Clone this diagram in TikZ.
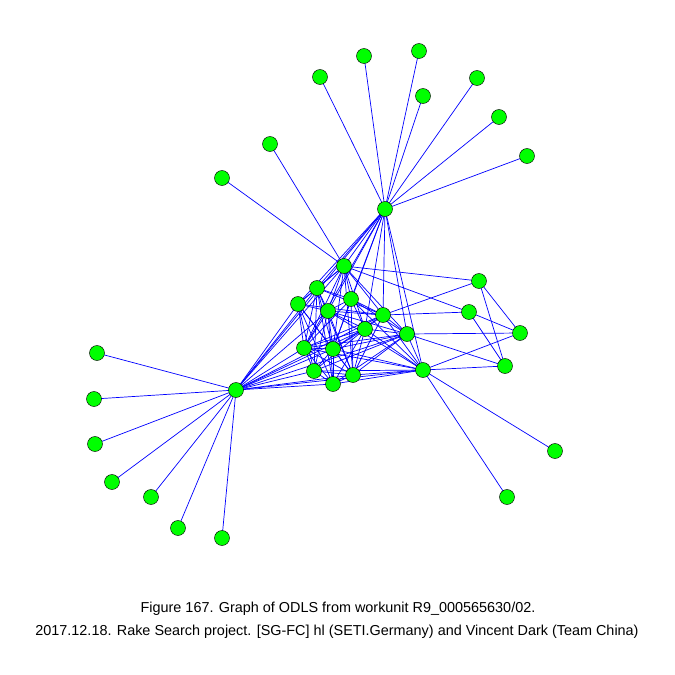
\documentclass[tikz,border=0pt]{standalone}
\usepackage{fontspec}
\setmainfont{Liberation Sans}
\begin{document}
\begin{tikzpicture}[x=0.04cm,y=-0.04cm,
  vtx/.style={circle,draw=black,fill=green,line width=0.5pt,minimum size=0.6cm,inner sep=0pt},
  edge/.style={draw=blue,line width=0.8pt},
  captext/.style={font=\fontsize{16.4}{19}\selectfont,anchor=center,inner sep=0pt}]
\useasboundingbox (0,0) rectangle (675,675);
% hubs
\coordinate (A) at (385,209);
\coordinate (B) at (236,390);
\coordinate (C) at (423,370);
% cluster
\coordinate (D) at (344,266);
\coordinate (E) at (317,288);
\coordinate (F) at (298,304);
\coordinate (G) at (351,299);
\coordinate (H) at (328,311);
\coordinate (I) at (383,315);
\coordinate (J) at (365,329);
\coordinate (K) at (407,334);
\coordinate (L) at (304,348);
\coordinate (M) at (333,349);
\coordinate (N) at (314,371);
\coordinate (O) at (353,375);
\coordinate (P) at (333,384);
% right group
\coordinate (Q) at (479,281);
\coordinate (R) at (469,312);
\coordinate (S) at (520,333);
\coordinate (T) at (505,366);
% leaves of A
\coordinate (a1) at (320,77);
\coordinate (a2) at (364,56);
\coordinate (a3) at (419,51);
\coordinate (a4) at (423,96);
\coordinate (a5) at (477,78);
\coordinate (a6) at (499,117);
\coordinate (a7) at (527,156);
% leaves of D
\coordinate (d1) at (270,144);
\coordinate (d2) at (222,178);
% leaves of B
\coordinate (b1) at (97,353);
\coordinate (b2) at (94,399);
\coordinate (b3) at (95,444);
\coordinate (b4) at (112,482);
\coordinate (b5) at (151,497);
\coordinate (b6) at (178,528);
\coordinate (b7) at (222,538);
% leaves of C
\coordinate (c1) at (555,451);
\coordinate (c2) at (507,497);

% edges
\foreach \u/\v in {A/a1,A/a2,A/a3,A/a4,A/a5,A/a6,A/a7,D/d1,D/d2,
  B/b1,B/b2,B/b3,B/b4,B/b5,B/b6,B/b7,C/c1,C/c2,
  A/B,A/C,A/D,A/E,A/F,A/G,A/H,A/I,A/J,A/K,A/L,A/M,
  B/D,B/E,B/F,B/H,B/L,B/M,B/N,B/O,B/P,B/J,B/K,B/C,B/I,
  C/I,C/J,C/K,C/L,C/M,C/N,C/O,C/P,C/H,C/S,C/T,C/G,
  D/E,D/F,D/G,D/H,D/I,D/J,D/K,D/L,D/M,D/O,D/Q,D/R,
  E/F,E/G,E/H,E/I,E/L,E/M,E/N,E/P,E/O,
  F/H,F/L,F/M,F/N,F/P,F/O,F/I,
  G/H,G/I,G/K,G/M,G/L,G/O,G/J,
  H/I,H/L,H/M,H/N,H/O,H/P,H/K,H/J,
  I/J,I/K,I/M,I/L,I/O,I/Q,I/R,
  J/K,J/L,J/M,J/N,J/P,J/O,
  K/L,K/M,K/N,K/O,K/P,K/S,K/T,
  L/M,L/N,L/P,L/O,M/N,M/O,M/P,N/P,N/O,O/P,
  Q/S,Q/T,R/S,R/T}
  \draw[edge] (\u) -- (\v);

% vertices
\foreach \n in {A,B,C,D,E,F,G,H,I,J,K,L,M,N,O,P,Q,R,S,T,
  a1,a2,a3,a4,a5,a6,a7,d1,d2,b1,b2,b3,b4,b5,b6,b7,c1,c2}
  \node[vtx] (v\n) at (\n) {};

\node[captext] (cap1) at (338,609) {Figure 167. Graph of ODLS from workunit R9\_000565630/02.};
\node[captext] (cap2) at (337,632) {2017.12.18. Rake Search project. [SG-FC] hl (SETI.Germany) and Vincent Dark (Team China)};
\end{tikzpicture}
\end{document}
